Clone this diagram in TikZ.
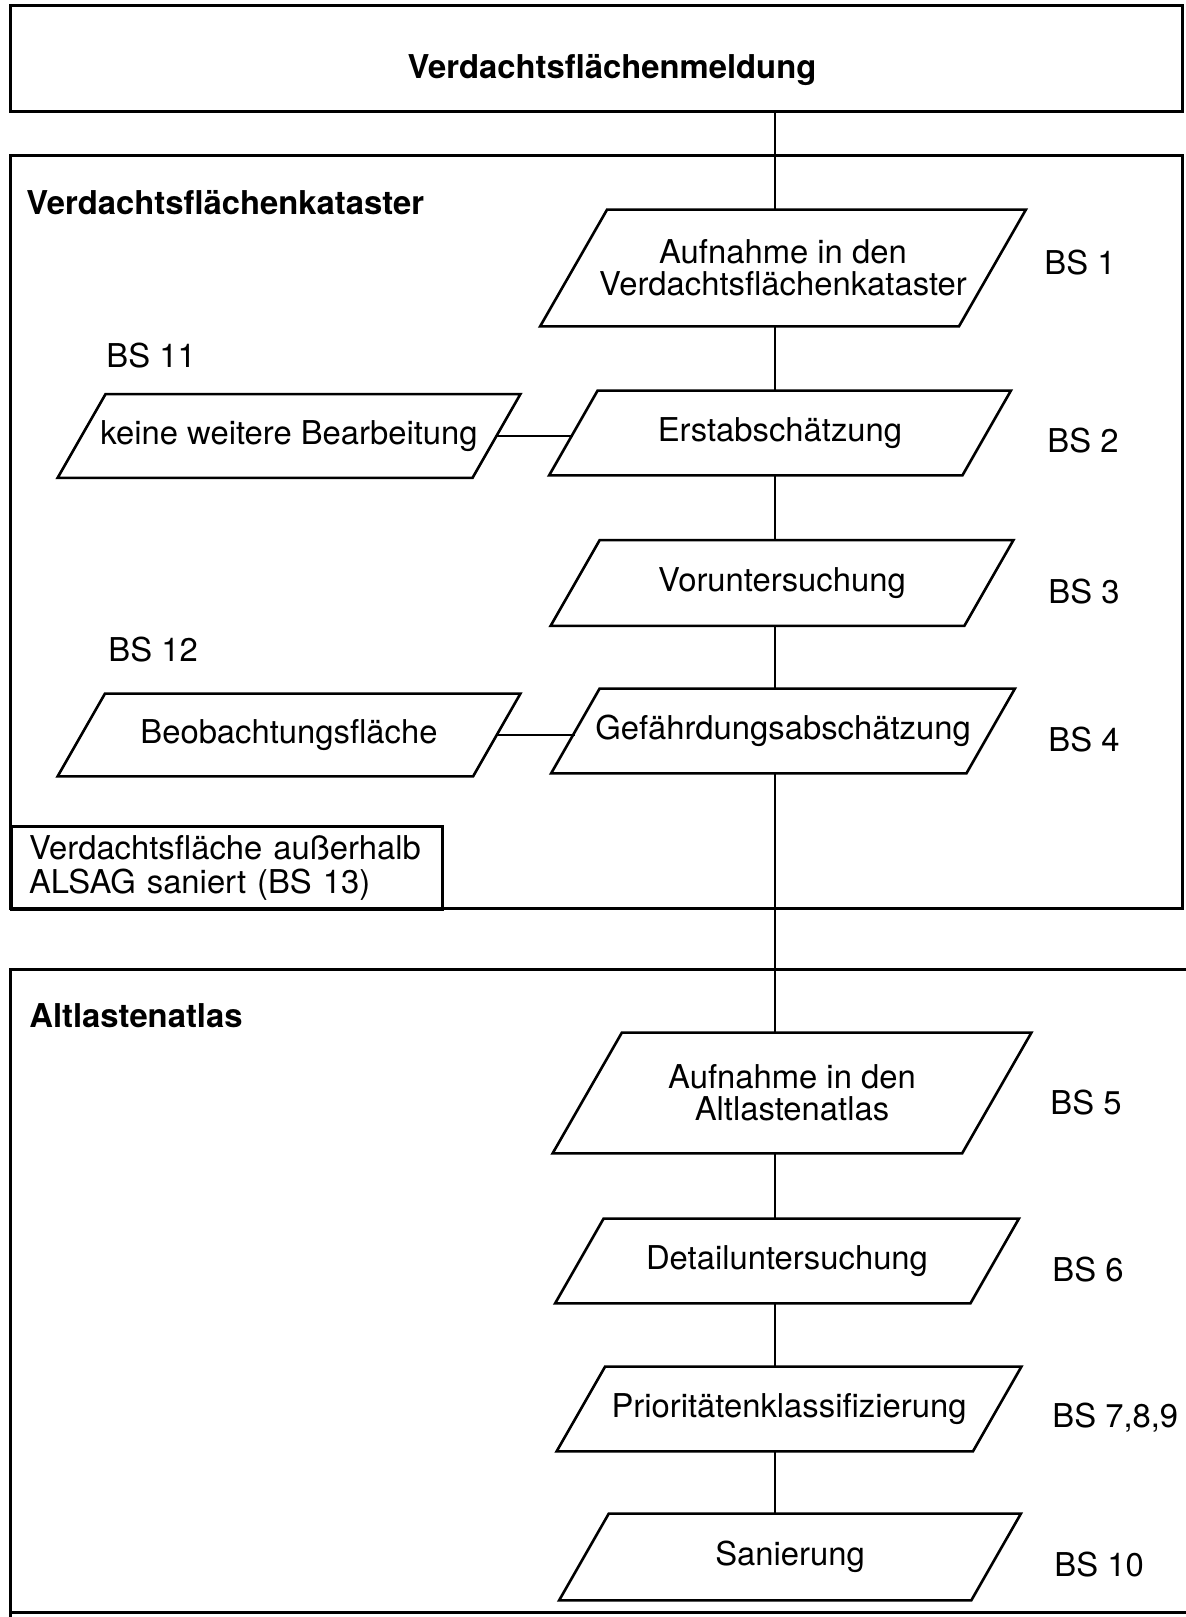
\documentclass[tikz,border=0pt]{standalone}
\usepackage{fontspec}
\setmainfont{TeX Gyre Heros}
\newcommand\myfont{\fontsize{16.4pt}{16pt}\selectfont}
\newcommand\drawpara[2]{\draw[boxline] ([xshift=-0.144338*#2pt]#1.south west) -- ([xshift=-0.144338*#2pt]#1.south east) -- ([xshift=0.144338*#2pt]#1.north east) -- ([xshift=0.144338*#2pt]#1.north west) -- cycle;}
\begin{document}
\begin{tikzpicture}[x=0.5pt,y=-0.5pt,
  frameline/.style={line width=1.5pt},
  boxline/.style={line width=1.3pt, line join=miter},
  link/.style={line width=0.75pt},
  parabox/.style 2 args={rectangle, inner sep=0pt, minimum width={(#1-0.57735*#2)*0.5pt}, minimum height={#2*0.5pt}, font=\myfont, align=center},
  bslabel/.style={anchor=west, inner sep=0pt, font=\myfont},
  title/.style={anchor=west, inner sep=0pt, font=\myfont\bfseries},
]
\useasboundingbox (0,0) rectangle (1186,1617);
% frames
\draw[frameline] (10,155) rectangle (1182,908);
\draw[frameline] (1186,969) -- (10,969) -- (10,1617);
\draw[frameline] (10,1612) -- (1186,1612);

\node[draw, frameline, minimum width=586pt, minimum height=53pt, inner sep=0pt] (top) at (596,58) {};
\node[font=\myfont\bfseries, inner sep=0pt] (toptitle) at (612,70) {Verdachtsflächenmeldung};

\node[title] (kattitle) at (26,203) {Verdachtsflächenkataster};
\node[title] (alttitle) at (29,1016) {Altlastenatlas};

% process boxes
\node[parabox={485}{116}] (bs1) at (783,268) {Aufnahme in den\\Verdachtsflächenkataster};
\node[parabox={462}{83}] (keine) at (289,436) {keine weitere Bearbeitung};
\node[parabox={461}{84}] (erst) at (780,433) {Erstabschätzung};
\node[parabox={462}{85}] (vor) at (782,583) {Voruntersuchung};
\node[parabox={462}{82}] (beob) at (289,735) {Beobachtungsfläche};
\node[parabox={463}{84}] (gef) at (783,731) {Gefährdungsabschätzung};
\node[parabox={478}{120}] (aufalt) at (792,1093) {Aufnahme in den\\Altlastenatlas};
\node[parabox={463}{84}] (detail) at (787,1261) {Detailuntersuchung};
\node[parabox={464}{84}] (prior) at (789,1409) {Prioritätenklassifizierung};
\node[parabox={461}{86}] (san) at (790,1557) {Sanierung};

\drawpara{bs1}{116}
\drawpara{keine}{83}
\drawpara{erst}{84}
\drawpara{vor}{85}
\drawpara{beob}{82}
\drawpara{gef}{84}
\drawpara{aufalt}{120}
\drawpara{detail}{84}
\drawpara{prior}{84}
\drawpara{san}{86}

% BS 13 box
\node[draw, frameline, anchor=north west, minimum width=215.5pt, minimum height=41.5pt, inner xsep=8.5pt, inner ysep=0pt, text width=198pt, align=left, font=\fontsize{16.4pt}{17pt}\selectfont] (bs13) at (10,825) {Verdachtsfläche außerhalb\\ALSAG saniert (BS 13)};

% labels
\node[bslabel] (l1) at (1044,263) {BS 1};
\node[bslabel] (l2) at (1047,441) {BS 2};
\node[bslabel] (l3) at (1048,592) {BS 3};
\node[bslabel] (l4) at (1048,740) {BS 4};
\node[bslabel] (l5) at (1050,1103) {BS 5};
\node[bslabel] (l6) at (1052,1270) {BS 6};
\node[bslabel] (l789) at (1052,1418) {BS 7,8,9};
\node[bslabel] (l10) at (1054,1565) {BS 10};
\node[bslabel] (l11) at (106,356) {BS 11};
\node[bslabel] (l12) at (108,650) {BS 12};

% connectors
\coordinate (spine) at (775,0);
\draw[link] (top.south -| spine) -- (bs1.north -| spine);
\draw[link] (bs1.south -| spine) -- (erst.north -| spine);
\draw[link] (erst.south -| spine) -- (vor.north -| spine);
\draw[link] (vor.south -| spine) -- (gef.north -| spine);
\draw[link] (gef.south -| spine) -- (aufalt.north -| spine);
\draw[link] (aufalt.south -| spine) -- (detail.north -| spine);
\draw[link] (detail.south -| spine) -- (prior.north -| spine);
\draw[link] (prior.south -| spine) -- (san.north -| spine);
\draw[link] (keine.east) -- (keine.east -| erst.west);
\draw[link] (beob.east) -- (beob.east -| gef.west);
\end{tikzpicture}
\end{document}
